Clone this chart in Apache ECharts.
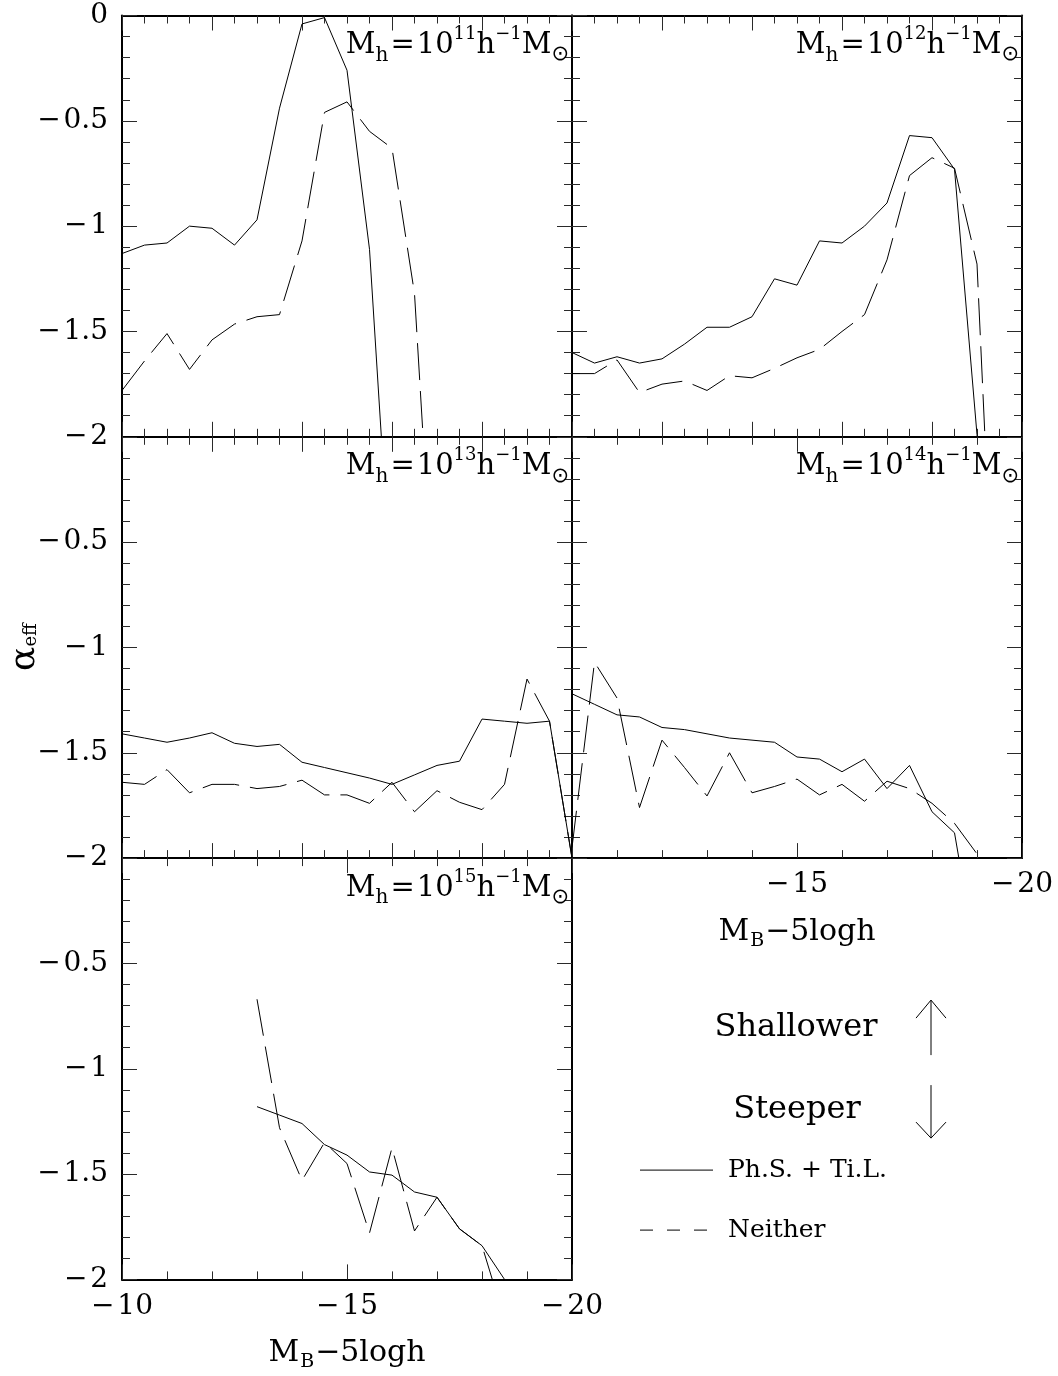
<!DOCTYPE html>
<html><head><meta charset="utf-8">
<script src="https://cdn.jsdelivr.net/npm/echarts@6/dist/echarts.min.js"></script>
<style>html,body{margin:0;padding:0;background:#fff}#c{width:1058px;height:1376px}</style>
</head><body><div id="c"></div>
<script>
// ---------------- data ----------------
const mag = [-10,-10.5,-11,-11.5,-12,-12.5,-13,-13.5,-14,-14.5,-15,-15.5,-16,-16.5,-17,-17.5,-18,-18.5,-19,-19.5,-20];
const massExp = ['11','12','13','14','15'];

const p11Solid  = [-1.13,-1.09,-1.08,-1.00,-1.01,-1.09,-0.97,-0.44,-0.04,-0.01,-0.26,-1.11,-2.80];
const p11Dashed = [-1.78,-1.64,-1.51,-1.68,-1.54,-1.465,-1.43,-1.42,-1.07,-0.46,-0.41,-0.55,-0.63,-1.32,-3.10];
const p12Solid  = [-1.60,-1.65,-1.62,-1.65,-1.63,-1.56,-1.48,-1.48,-1.43,-1.25,-1.28,-1.07,-1.08,-1.00,-0.89,-0.57,-0.58,-0.73,-1.99,-3.20];
const p12Dashed = [-1.70,-1.70,-1.635,-1.79,-1.75,-1.735,-1.78,-1.71,-1.72,-1.675,-1.625,-1.585,-1.50,-1.42,-1.16,-0.76,-0.675,-0.725,-1.18,-3.50];
const p13Solid  = [-1.41,-1.43,-1.45,-1.43,-1.405,-1.455,-1.47,-1.46,-1.545,-1.57,-1.595,-1.62,-1.65,-1.605,-1.56,-1.54,-1.34,-1.35,-1.36,-1.35,-2.00];
const p13Dashed = [-1.64,-1.65,-1.58,-1.69,-1.65,-1.65,-1.67,-1.66,-1.63,-1.70,-1.70,-1.74,-1.64,-1.78,-1.68,-1.735,-1.77,-1.65,-1.15,-1.35,-2.00];
const p14Solid  = [-1.22,-1.27,-1.32,-1.33,-1.38,-1.39,-1.41,-1.43,-1.44,-1.45,-1.52,-1.53,-1.59,-1.53,-1.67,-1.56,-1.78,-1.88,-2.50];
const p14Dashed = [-1.95,-1.07,-1.24,-1.76,-1.44,-1.57,-1.705,-1.50,-1.69,-1.66,-1.625,-1.70,-1.65,-1.73,-1.635,-1.67,-1.74,-1.835,-1.98,-2.30];
const mag15 = [-13,-13.5,-14,-14.5,-15,-15.5,-16,-16.5,-17,-17.5,-18,-18.5];
const p15Solid  = [-1.18,-1.22,-1.26,-1.36,-1.41,-1.49,-1.505,-1.585,-1.61,-1.76,-1.84,-2.00];
const p15Dashed = [-0.67,-1.28,-1.53,-1.35,-1.45,-1.78,-1.375,-1.77,-1.61,-1.76,-1.84,-2.19];

const xTickValues = [-10,-15,-20];
const xTickText   = ['\u2212\u200a10','\u2212\u200a15','\u2212\u200a20'];
const yTickValues = [0,-0.5,-1,-1.5,-2];
const yTickText   = ['0','\u2212\u200a0.5','\u2212\u200a1','\u2212\u200a1.5','\u2212\u200a2'];

const legendSolid = 'Ph.S. + Ti.L.';
const legendDashed = 'Neither';

// ---------------- layout ----------------
const F = '"DejaVu Serif", "Liberation Serif", serif';
const L1 = 122, L2 = 572, W = 450, H = 421.3;
const T = [15.5, 436.8, 858.1];
const panels = [
  {left:L1, top:T[0], fine:true,  xLab:null,   yLab:'all', s:p11Solid, d:p11Dashed, xs:mag, xd:mag},
  {left:L2, top:T[0], fine:true,  xLab:null,   yLab:null,  s:p12Solid, d:p12Dashed, xs:mag, xd:mag},
  {left:L1, top:T[1], fine:true,  xLab:null,   yLab:'no0', s:p13Solid, d:p13Dashed, xs:mag, xd:mag},
  {left:L2, top:T[1], fine:false, xLab:'no10', yLab:null,  s:p14Solid, d:p14Dashed, xs:mag, xd:mag},
  {left:L1, top:T[2], fine:false, xLab:'all',  yLab:'no0', s:p15Solid, d:p15Dashed, xs:mag15, xd:mag15}
];

function lookup(vals, txt, v) {
  for (let i = 0; i < vals.length; i++) if (Math.abs(vals[i] - v) < 1e-6) return txt[i];
  return '';
}
function pairs(xs, ys) { return ys.map((y, i) => [xs[i], y]); }

const lineCol = '#000', tickCol = '#2a2a2a';
const grids = [], xAxes = [], yAxes = [], series = [];
panels.forEach((p, gi) => {
  grids.push({left:p.left, top:p.top, width:W, height:H, containLabel:false, outerBoundsMode:'none'});
  const xb = {
    type:'value', gridIndex:gi, min:-20, max:-10, inverse:true, interval: p.fine ? 2 : 5,
    axisLine:{show:true, onZero:false, lineStyle:{color:lineCol, width:2}},
    axisTick:{show:true, inside:true, length:15, lineStyle:{color:tickCol, width:1}},
    minorTick:{show:true, splitNumber: p.fine ? 4 : 5, length:8, lineStyle:{color:tickCol, width:1}},
    splitLine:{show:false}, minorSplitLine:{show:false}
  };
  xAxes.push(Object.assign({}, xb, {
    position:'bottom',
    axisLabel: p.xLab ? {
      show:true, margin:13, fontSize:28, fontFamily:F, color:'#000', showMinLabel:true, showMaxLabel:true,
      formatter: v => (p.xLab === 'no10' && v === -10) ? '' : lookup(xTickValues, xTickText, v)
    } : {show:false}
  }));
  xAxes.push(Object.assign({}, xb, {position:'top', axisLabel:{show:false}}));
  const yb = {
    type:'value', gridIndex:gi, min:-2, max:0, interval:0.5,
    axisLine:{show:true, onZero:false, lineStyle:{color:lineCol, width:2}},
    axisTick:{show:true, inside:true, length:15, lineStyle:{color:tickCol, width:1}},
    minorTick:{show:true, splitNumber:5, length:8, lineStyle:{color:tickCol, width:1}},
    splitLine:{show:false}, minorSplitLine:{show:false}
  };
  yAxes.push(Object.assign({}, yb, {
    position:'left',
    axisLabel: p.yLab ? {
      show:true, margin:14, fontSize:28, fontFamily:F, color:'#000', showMinLabel:true, showMaxLabel:true,
      formatter: v => (p.yLab === 'no0' && v === 0) ? '' : lookup(yTickValues, yTickText, v)
    } : {show:false}
  }));
  yAxes.push(Object.assign({}, yb, {position:'right', axisLabel:{show:false}}));
  series.push({type:'line', xAxisIndex:2*gi, yAxisIndex:2*gi, data:pairs(p.xs, p.s), symbol:'none', clip:true,
    silent:true, lineStyle:{color:'#000', width:1, type:'solid'}});
  series.push({type:'line', xAxisIndex:2*gi, yAxisIndex:2*gi, data:pairs(p.xd, p.d), symbol:'none', clip:true,
    silent:true, lineStyle:{color:'#000', width:1, type:[37,11]}});
});

// ---------------- texts ----------------
const massRich = {
  m:{fontSize:29, fontFamily:F, color:'#000', lineHeight:40, verticalAlign:'middle'},
  q:{fontSize:29, fontFamily:F, color:'#000', lineHeight:40, verticalAlign:'middle', padding:[0,2,0,2]},
  s:{fontSize:20, fontFamily:F, color:'#000', lineHeight:12, verticalAlign:'bottom'},
  p:{fontSize:18, fontFamily:F, color:'#000', lineHeight:33, verticalAlign:'top'},
  o:{fontSize:21, fontFamily:'"DejaVu Sans", sans-serif', color:'#000', lineHeight:8, verticalAlign:'bottom'}
};
const graphics = [];
panels.forEach((p, gi) => {
  graphics.push({type:'text', x:p.left + W - 3, y:p.top + 10, silent:true, z:10,
    style:{text:'{m|M}{s|h}{q|=}{m|10}{p|' + massExp[gi] + '}{m|h}{p|\u22121}{m|M}{o|\u2299}',
      align:'right', verticalAlign:'top', textAlign:'right', textVerticalAlign:'top', rich:massRich}});
});
const titleRich = {
  m:{fontSize:30, fontFamily:F, color:'#000', lineHeight:36, verticalAlign:'middle'},
  s:{fontSize:19, fontFamily:F, color:'#000', lineHeight:12, verticalAlign:'bottom', padding:[0,1,0,1]}
};
const xTitle = '{m|M}{s|B}{m|\u22125logh}';
graphics.push({type:'text', x:L1 + W/2, y:T[2] + H + 56, silent:true,
  style:{text:xTitle, align:'center', verticalAlign:'top', textAlign:'center', textVerticalAlign:'top', rich:titleRich}});
graphics.push({type:'text', x:L2 + W/2, y:T[1] + H + 56, silent:true,
  style:{text:xTitle, align:'center', verticalAlign:'top', textAlign:'center', textVerticalAlign:'top', rich:titleRich}});
graphics.push({type:'text', x:25, y:647, rotation:Math.PI/2, silent:true,
  style:{text:'{a|\u03b1}{e|eff}', align:'center', verticalAlign:'middle', textAlign:'center', textVerticalAlign:'middle',
    rich:{a:{fontSize:36, fontFamily:F, color:'#000', lineHeight:30, verticalAlign:'middle'},
          e:{fontSize:18, fontFamily:F, color:'#000', lineHeight:8, verticalAlign:'bottom'}}}});

// legend block (lower right)
const LX = L2, LY = T[2];
function txt(x, y, s, size, align) {
  return {type:'text', x:x, y:y, silent:true,
    style:{text:s, fontSize:size, fontFamily:F, fill:'#000', align:align, verticalAlign:'middle', textAlign:align, textVerticalAlign:'middle'}};
}
function seg(x1, y1, x2, y2, dash) {
  return {type:'line', silent:true, shape:{x1:x1, y1:y1, x2:x2, y2:y2},
    style:{stroke:'#000', lineWidth:1, lineDash: dash || null}};
}
graphics.push(txt(LX + 224, LY + 170, 'Shallower', 32, 'center'));
graphics.push(txt(LX + 225, LY + 252, 'Steeper', 32, 'center'));
const ax = LX + 359;
graphics.push(seg(ax, LY + 197, ax, LY + 142));
graphics.push(seg(ax - 15, LY + 160, ax, LY + 142));
graphics.push(seg(ax + 15, LY + 160, ax, LY + 142));
graphics.push(seg(ax, LY + 227, ax, LY + 280));
graphics.push(seg(ax - 15, LY + 264, ax, LY + 280));
graphics.push(seg(ax + 15, LY + 264, ax, LY + 280));
graphics.push(seg(LX + 68, LY + 312, LX + 141, LY + 312));
graphics.push(txt(LX + 156, LY + 312, legendSolid, 25, 'left'));
graphics.push(seg(LX + 68, LY + 372, LX + 136, LY + 372, [13, 14]));
graphics.push(txt(LX + 156, LY + 372, legendDashed, 25, 'left'));

const chart = echarts.init(document.getElementById('c'), null, {renderer:'canvas'});
chart.setOption({
  animation:false,
  backgroundColor:'#fff',
  grid:grids, xAxis:xAxes, yAxis:yAxes, series:series,
  graphic:graphics
});
</script></body></html>
